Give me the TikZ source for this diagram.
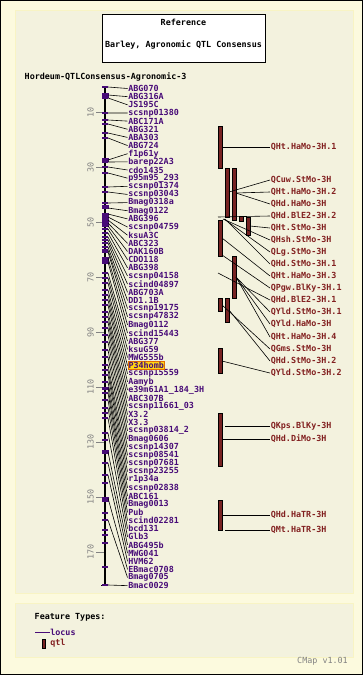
\documentclass[tikz,border=0pt]{standalone}
\usepackage{fontspec}
\newfontfamily\pix{DejaVu Sans Mono}
\definecolor{outerbg}{RGB}{252,250,222}
\definecolor{panelbg}{RGB}{243,242,222}
\definecolor{panelbd}{RGB}{248,244,196}
\definecolor{locpurple}{RGB}{72,12,120}
\definecolor{qtlred}{RGB}{130,32,32}
\definecolor{qtlfill}{RGB}{120,35,35}
\definecolor{hlyellow}{RGB}{255,214,20}
\definecolor{hlorange}{RGB}{225,110,0}
\definecolor{scalegray}{RGB}{130,130,130}
\begin{document}
\begin{tikzpicture}[x=1pt,y=-1pt,
  font=\pix\bfseries\fontsize{8.4}{9}\selectfont,
  loclab/.style={anchor=west,inner sep=0.6pt,text=locpurple},
  qtllab/.style={anchor=west,inner sep=0.6pt,text=qtlred},
  conn/.style={black,line width=0.6pt},
  qbar/.style={fill=qtlfill,draw=black,line width=0.4pt},
  ltick/.style={locpurple,line width=1.1pt},
  lblock/.style={fill=locpurple,draw=none},
  panel/.style={fill=panelbg,draw=panelbd,line width=0.8pt}]
\useasboundingbox (0,0) rectangle (363,675);
\fill[outerbg] (0,0) rectangle (363,675);
\draw[black,line width=1pt] (0.5,0.5) rectangle (362.5,674.5);
\draw[panel] (15,10) rectangle (353,593);
\draw[panel] (15,603) rectangle (353,657);

% reference box
\node[draw=black,fill=white,line width=0.8pt,minimum width=163pt,minimum height=48pt,inner sep=0pt] (ref) at (183.5,38) {};
\node[text=black] (reft) at (183.5,22.5) {Reference};
\node[text=black] (refs) at (183.5,45) {Barley, Agronomic QTL Consensus};
\node[anchor=west,text=black,inner sep=0pt] (title) at (24.5,77) {Hordeum-QTLConsensus-Agronomic-3};

% scale
\foreach \v in {10,30,...,170} {
  \pgfmathsetmacro\yy{84.5+2.75*\v}
  \draw[scalegray,line width=0.6pt] (96,\yy) -- (105,\yy);
  \node[rotate=90,text=scalegray,inner sep=0pt,font=\pix\fontsize{8.4}{9}\selectfont] (s\v) at (90.5,\yy) {\v};
}

% axis
\coordinate (atop) at (105,86);
\coordinate (abot) at (105,585);
\draw[black,line width=1.8pt] (atop) -- (abot);
\draw[black,line width=0.8pt] (101,585) -- (108,585);

% blocks on axis
\foreach \a/\b in {93/98,158/162,205/209,213/227,257/264,387/390,450/454,497/502} {
  \fill[lblock] (101.5,\a) rectangle (108.5,\b);
}
% extra ticks
\foreach \ly in {413,440,483,500,513,530,535,543,567} {
  \draw[ltick] (102,\ly) -- (108,\ly);
}

% loci and labels
\foreach \i/\ly/\nm in {0/87/ABG070,1/95/ABG316A,2/98/JS195C,3/113/scsnp01380,4/120/ABC171A,
  5/124/ABG321,6/133/ABA303,7/138/ABG724,8/160/f1p61y,9/162/barep22A3,10/167/cdo1435,
  11/173/p95m95\_293,12/187/scsnp01374,13/192/scsnp03043,14/203/Bmag0318a,15/208/Bmag0122,
  16/214/ABG396,17/217/scsnp04759,18/220/ksuA3C,19/223/ABC323,20/226/DAK160B,21/229/CDO118,
  22/233/ABG398,23/237/scsnp04158,24/240/scind04897,25/243/ABG703A,26/247/DD1.1B,
  27/250/scsnp19175,28/252/scsnp47832,29/258/Bmag0112,30/262/scind15443,31/273/ABG377,
  32/278/ksuG59,33/283/MWG555b,35/295/scsnp15559,36/300/Aamyb,
  37/305/e39m61A1\_184\_3H,38/312/ABC307B,39/317/scsnp11661\_03,40/322/X3.2,41/328/X3.3,
  42/335/scsnp03814\_2,43/342/Bmag0606,44/350/scsnp14307,45/357/scsnp08541,46/365/scsnp07681,
  47/370/scsnp23255,48/375/r1p34a,49/382/scsnp02838,50/388/ABC161,51/393/Bmag0013,52/400/Pub,
  53/408/scind02281,54/418/bcd131,55/433/Glb3,56/452/ABG495b,57/463/MWG041,58/475/HVM62,
  59/498/EBmac0708,60/520/Bmag0705,61/585/Bmac0029} {
  \pgfmathsetmacro\ty{88.5+8.15*\i}
  \draw[ltick] (102,\ly) -- (108,\ly);
  \coordinate (l\i) at (108,\ly);
  \node[loclab] (t\i) at (127.5,\ty) {\nm};
  \draw[conn] (l\i) -- (t\i.west);
}
% highlighted locus
\pgfmathsetmacro\ty{88.5+8.15*34}
\draw[ltick] (102,290) -- (108,290);
\coordinate (l34) at (108,290);
\node[loclab,fill=hlyellow,draw=hlorange,line width=0.8pt] (t34) at (127.5,\ty) {P34homb};
\draw[conn] (l34) -- (t34.west);

% QTL bars
\draw[qbar] (218,126) rectangle (222,168);
\draw[qbar] (225,168) rectangle (229,217);
\draw[qbar] (232,168) rectangle (236,220);
\draw[qbar] (239,216) rectangle (243,221);
\draw[qbar] (246,217) rectangle (250,235);
\draw[qbar] (218,220) rectangle (222,256);
\draw[qbar] (232,256) rectangle (236,298);
\draw[qbar] (218,298) rectangle (222,311);
\draw[qbar] (225,298) rectangle (229,322);
\draw[qbar] (218,348) rectangle (222,373);
\draw[qbar] (218,413) rectangle (222,466);
\draw[qbar] (218,500) rectangle (222,530);

% QTL labels and connectors
\foreach \k/\sx/\sy/\qy/\nm in {
  1/222/147/147/QHt.HaMo-3H.1,
  2/229/192/180/QCuw.StMo-3H,
  3/236/193/192/QHt.HaMo-3H.2,
  4/236/193/204/QHd.HaMo-3H,
  5/218/217/216/QHd.BlE2-3H.2,
  6/250/226/228/QHt.StMo-3H,
  7/223/219/240/QHsh.StMo-3H,
  8/224/219/252/QLg.StMo-3H,
  9/225/219/264/QHd.StMo-3H.1,
  10/222/238/276/QHt.HaMo-3H.3,
  11/222/255/288/QPgw.BlKy-3H.1,
  12/218/273/300/QHd.BlE2-3H.1,
  13/236/277/312/QYld.StMo-3H.1,
  14/236/277/324/QYld.HaMo-3H,
  15/236/277/337/QHt.HaMo-3H.4,
  16/222/305/349/QGms.StMo-3H,
  17/229/310/361/QHd.StMo-3H.2,
  18/222/361/373/QYld.StMo-3H.2,
  19/225/426/426/QKps.BlKy-3H,
  20/222/439/439/QHd.DiMo-3H,
  21/222/515/515/QHd.HaTR-3H,
  22/225/530/530/QMt.HaTR-3H} {
  \coordinate (qs\k) at (\sx,\sy);
  \node[qtllab] (q\k) at (270,\qy) {\nm};
  \draw[conn] (qs\k) -- (q\k.west);
}

% legend
\node[anchor=west,text=black,inner sep=0pt] (ft) at (34.5,617.5) {Feature Types:};
\coordinate (lg1) at (35,632);
\node[loclab] (lg1t) at (49.5,632) {locus};
\draw[locpurple,line width=0.9pt] (lg1) -- (lg1t.west);
\draw[qbar] (42,639) rectangle (45.5,648);
\node[qtllab] (lg2t) at (49.5,643.5) {qtl};
\node[anchor=east,text=scalegray,inner sep=0pt,font=\pix\fontsize{8.4}{9}\selectfont] (cmap) at (348,661.5) {CMap v1.01};
\end{tikzpicture}
\end{document}
